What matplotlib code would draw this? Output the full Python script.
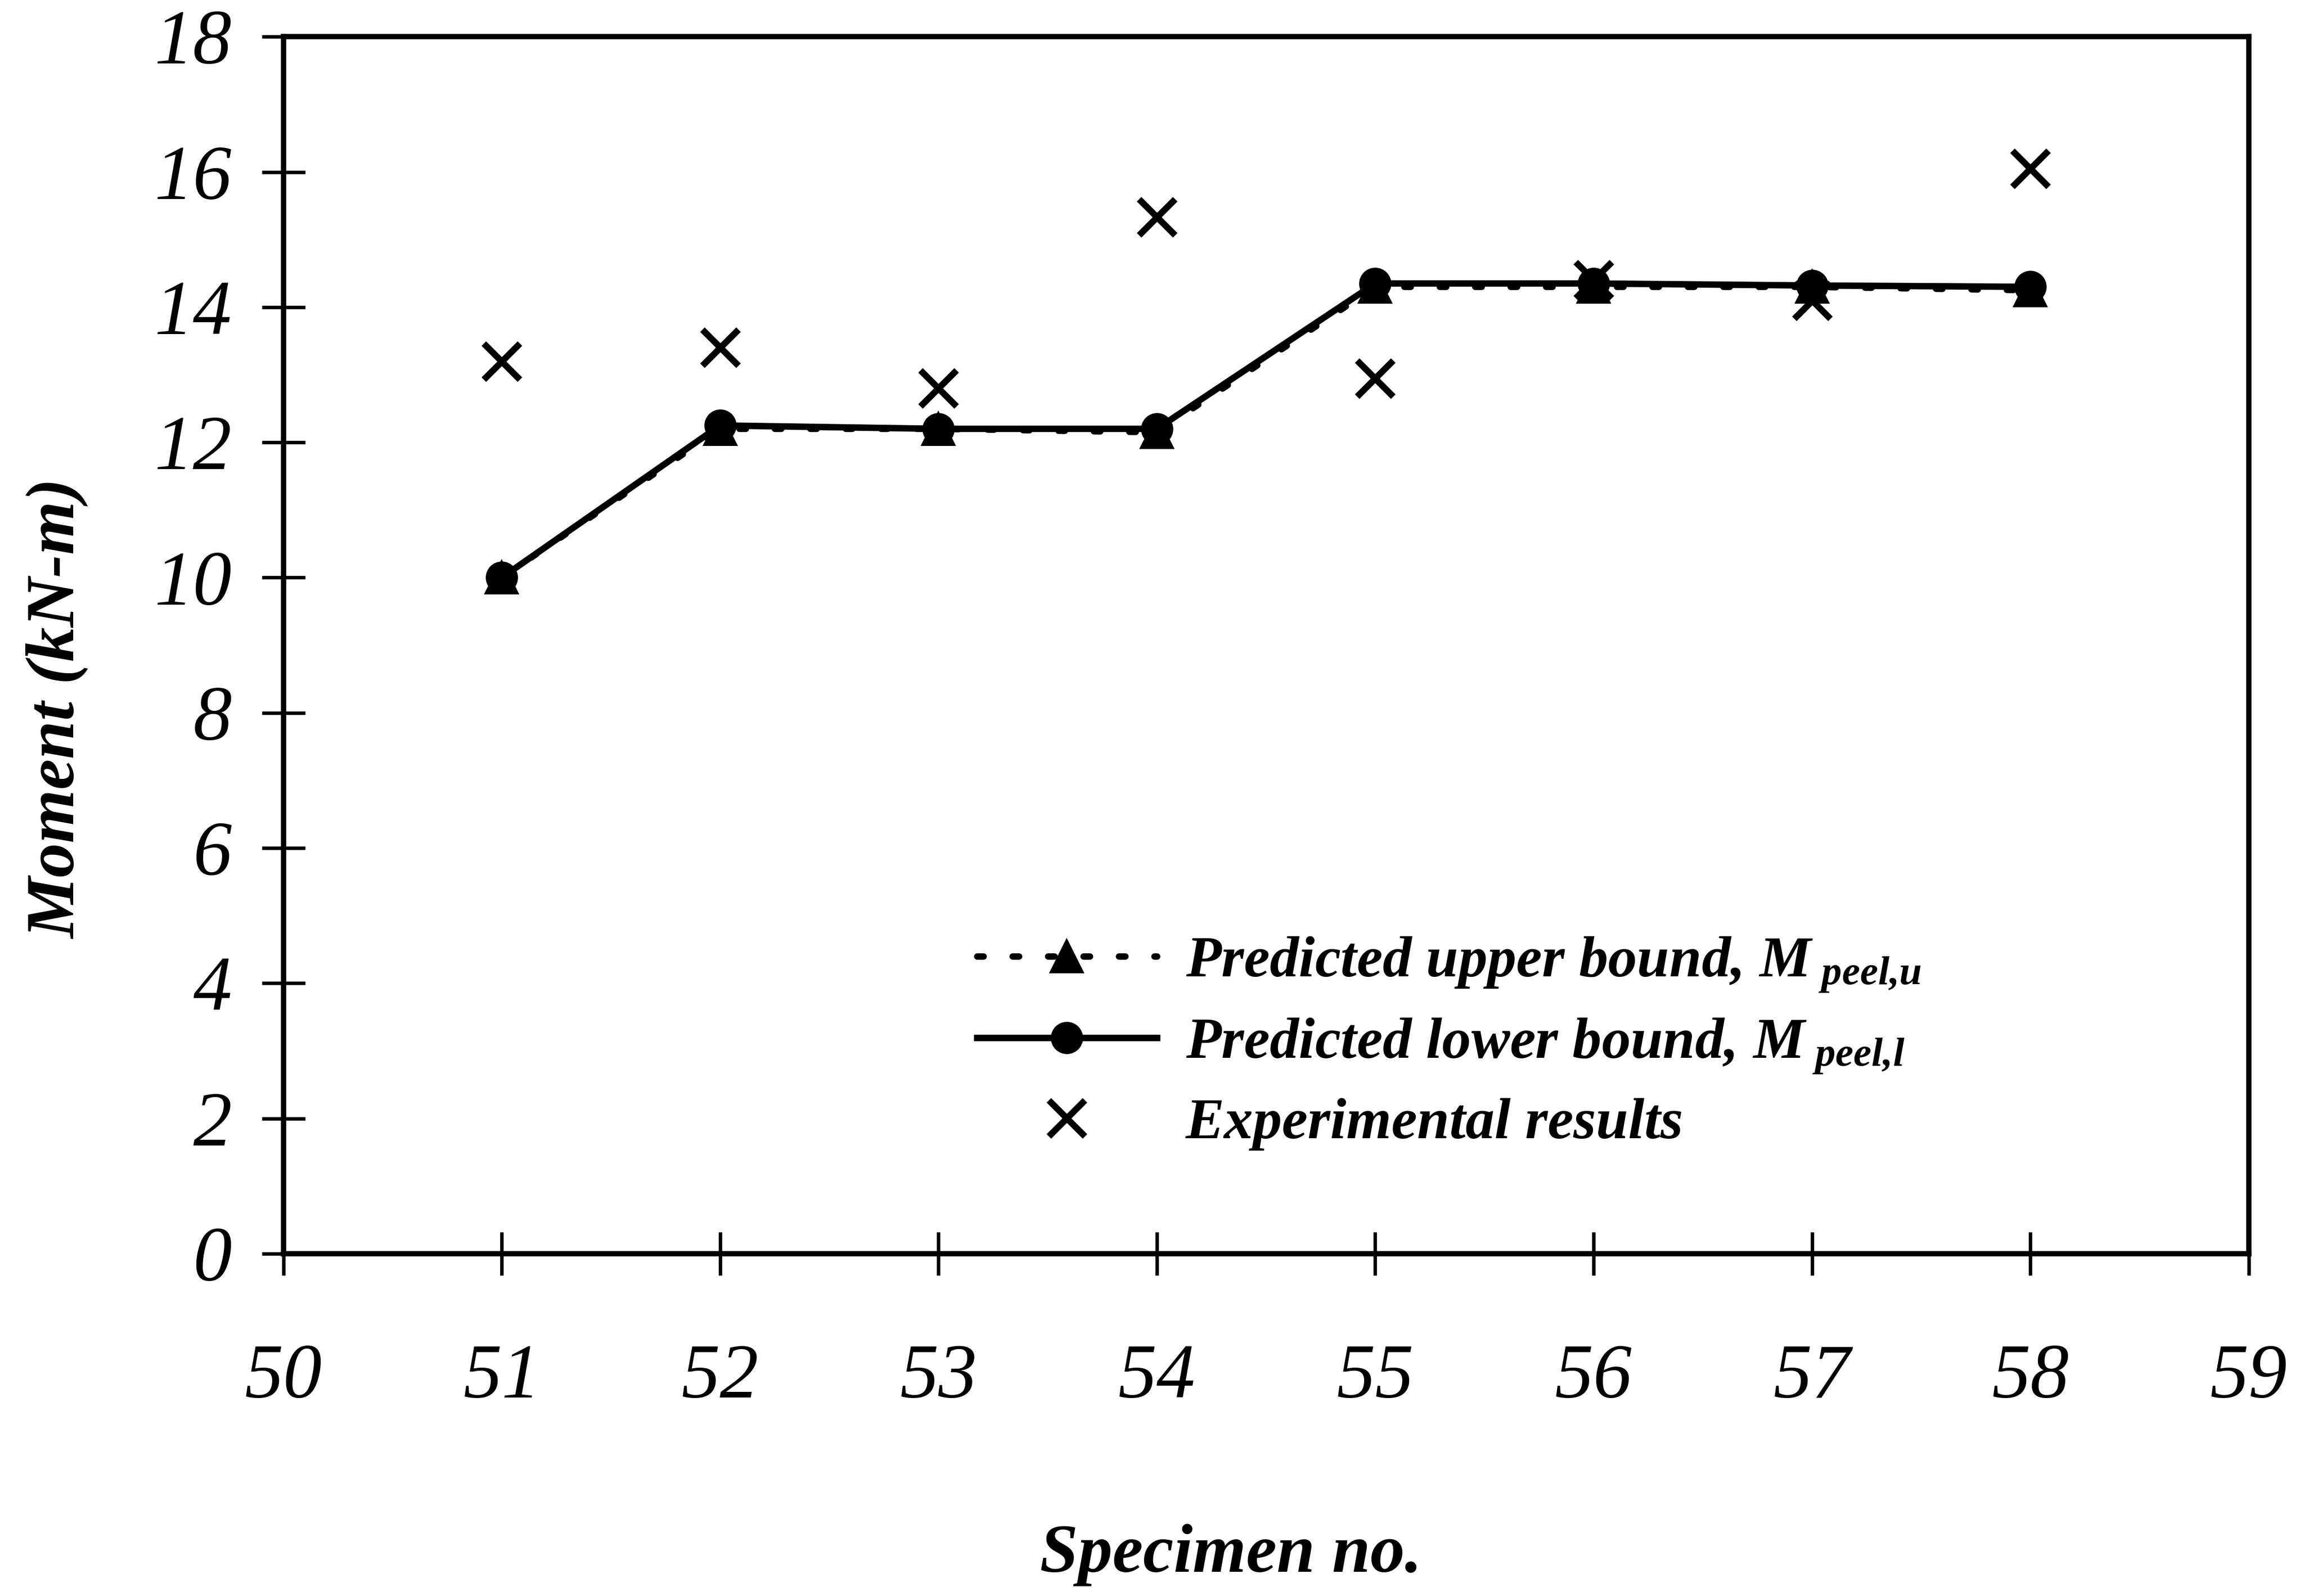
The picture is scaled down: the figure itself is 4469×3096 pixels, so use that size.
import matplotlib
matplotlib.use('Agg')
import matplotlib.pyplot as plt

plt.rcParams['font.family'] = ['Liberation Serif', 'DejaVu Serif']
plt.rcParams['mathtext.fontset'] = 'custom'
plt.rcParams['mathtext.it'] = 'Liberation Serif:italic:bold'
plt.rcParams['mathtext.rm'] = 'Liberation Serif:italic:bold'

# specimen numbers and moments (kN-m)
specimen = [51, 52, 53, 54, 55, 56, 57, 58]
upper_bound = [10.0, 12.2, 12.2, 12.15, 14.3, 14.3, 14.3, 14.25]
lower_bound = [10.0, 12.25, 12.2, 12.2, 14.35, 14.35, 14.32, 14.3]
experimental = [13.2, 13.4, 12.8, 15.33, 12.95, 14.4, 14.1, 16.05]

x_ticks = list(range(50, 60))
y_ticks = list(range(0, 19, 2))

fig = plt.figure(figsize=(4469/300, 3096/300), dpi=300)
ax = fig.add_axes([0.123, 0.2145, 0.853, 0.7625])

ax.plot(specimen, upper_bound, color='black', lw=3, linestyle=(0, (1, 4.5)),
        dash_capstyle='round', marker='^', markersize=15,
        label=r'Predicted upper bound, $M_{\ peel{,}u}$')
ax.plot(specimen, lower_bound, color='black', lw=3, linestyle='-',
        marker='o', markersize=14,
        label=r'Predicted lower bound, $M_{\ peel{,}l}$')
ax.plot(specimen, experimental, color='black', linestyle='none',
        marker='x', markersize=17, markeredgewidth=3,
        label='Experimental results')

ax.set_xlim(50, 59)
ax.set_ylim(0, 18)
ax.set_xticks(x_ticks)
ax.set_yticks(y_ticks)
for lab in ax.get_xticklabels() + ax.get_yticklabels():
    lab.set_fontstyle('italic')
    lab.set_fontsize(36)
ax.tick_params(axis='x', direction='inout', length=20, width=1.6, pad=32)
ax.tick_params(axis='y', direction='inout', length=20, width=1.6, pad=14)
for s in ax.spines.values():
    s.set_linewidth(2.5)

ax.set_ylabel('Moment (kN-m)', fontsize=32, fontstyle='italic', fontweight='bold')
ax.yaxis.set_label_coords(-0.099, 0.448)
ax.set_xlabel('Specimen no.', fontsize=32, fontstyle='italic', fontweight='bold')
ax.xaxis.set_label_coords(0.482, -0.222)

leg = ax.legend(loc='upper left', bbox_to_anchor=(0.424, 0.414),
                bbox_transform=fig.transFigure, frameon=False,
                handlelength=3.1, handletextpad=0.5, labelspacing=0.38,
                borderpad=0, borderaxespad=0,
                prop={'size': 27, 'style': 'italic', 'weight': 'bold'})

fig.savefig('out.png', dpi=300)
